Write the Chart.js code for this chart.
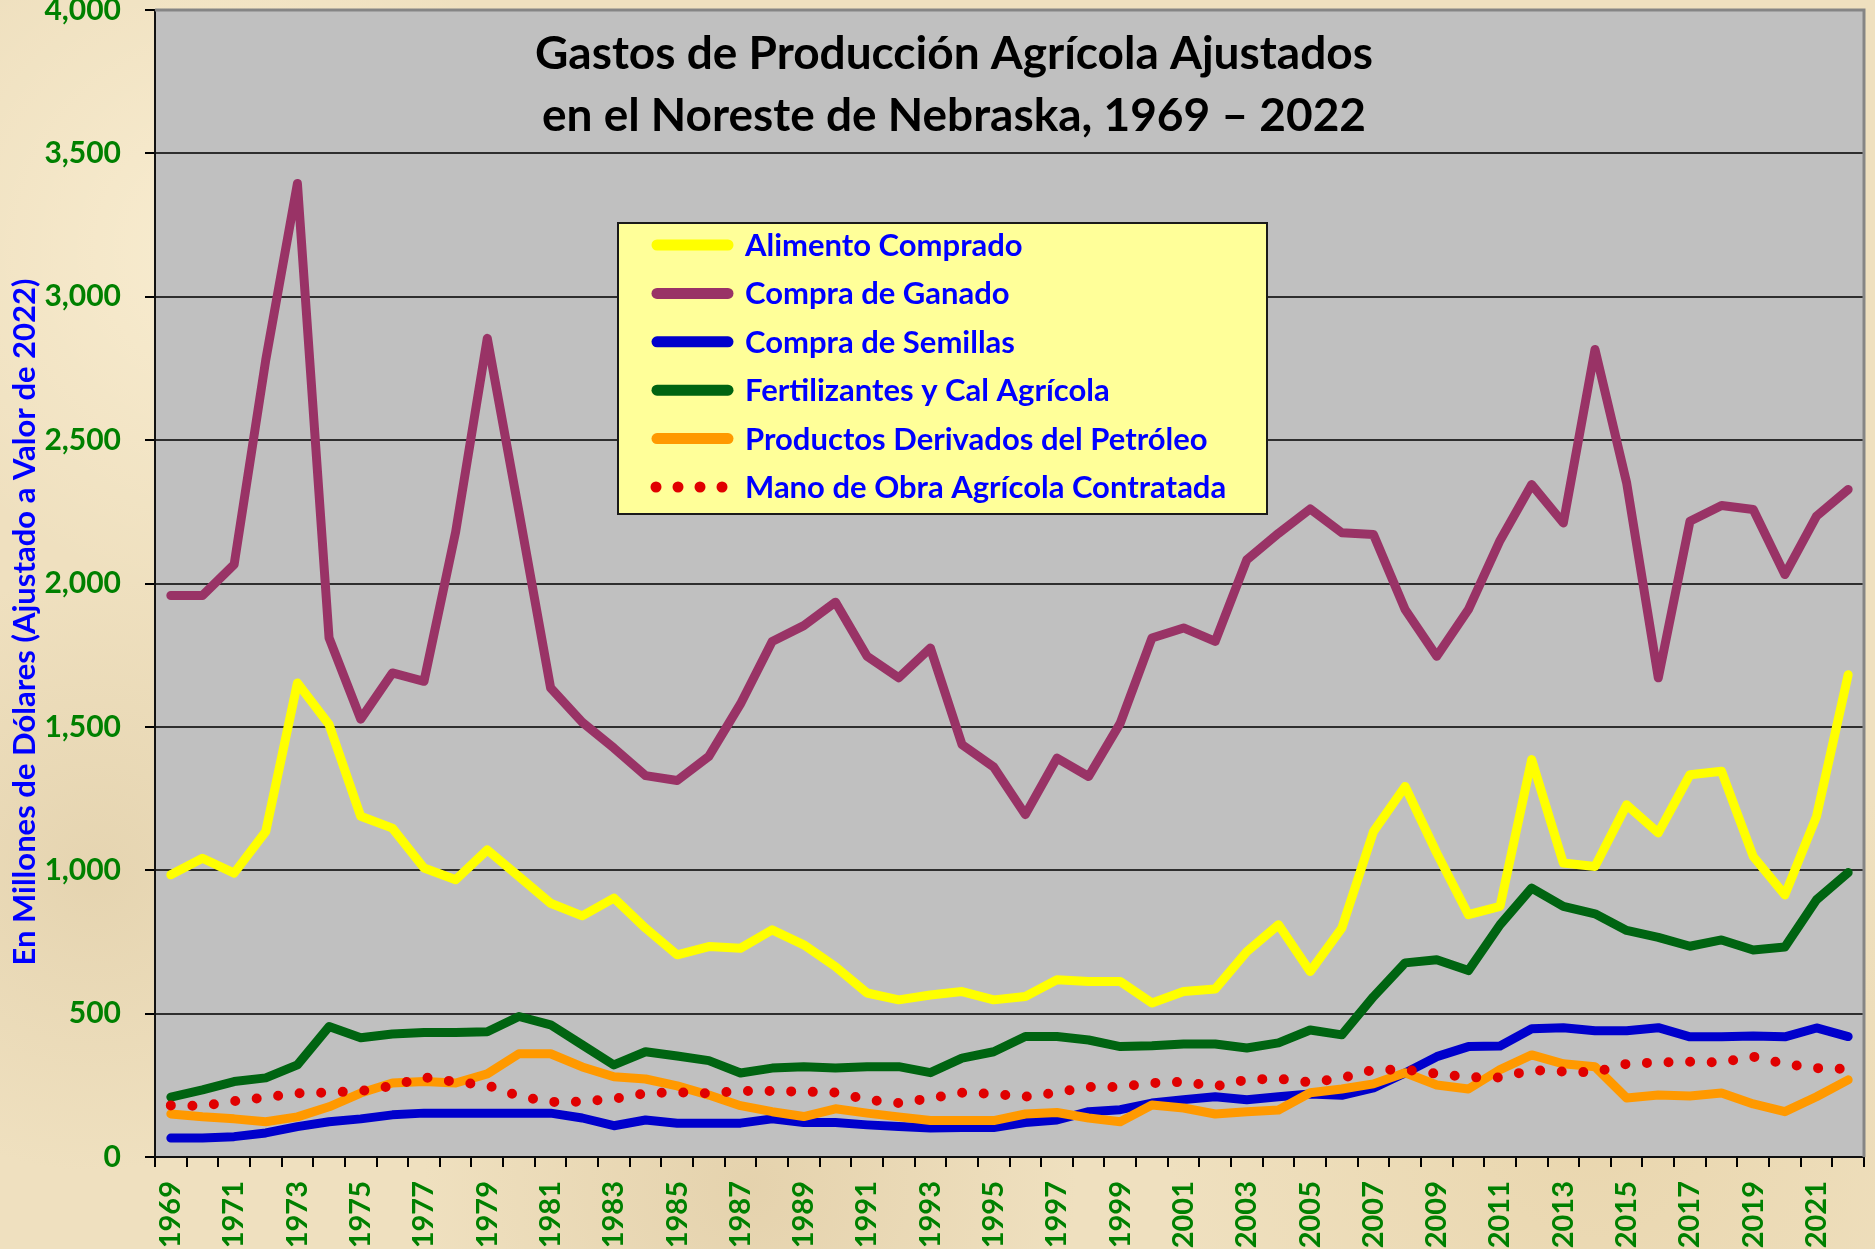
<!DOCTYPE html>
<html>
<head>
<meta charset="utf-8">
<title>Gastos de Producción Agrícola Ajustados en el Noreste de Nebraska</title>
<script src="https://cdn.jsdelivr.net/npm/chart.js@4.4.1/dist/chart.umd.min.js"></script>
<style>
  html, body { margin: 0; padding: 0; }
  body {
    width: 1875px; height: 1249px; overflow: hidden;
    background-color: #efe0bf;
    background-image:
      radial-gradient(circle at 12% 20%, rgba(255,245,220,0.6), rgba(255,245,220,0) 18%),
      radial-gradient(circle at 40% 95%, rgba(210,185,140,0.35), rgba(210,185,140,0) 20%),
      radial-gradient(circle at 85% 90%, rgba(225,200,150,0.4), rgba(225,200,150,0) 22%),
      radial-gradient(circle at 5% 70%, rgba(215,195,155,0.4), rgba(215,195,155,0) 15%);
  }
  canvas { display: block; }
</style>
</head>
<body>
<canvas id="gastosChart" width="1875" height="1249"></canvas>
<script>
// years on the x axis
var years = ['1969','1970','1971','1972','1973','1974','1975','1976','1977','1978',
             '1979','1980','1981','1982','1983','1984','1985','1986','1987','1988',
             '1989','1990','1991','1992','1993','1994','1995','1996','1997','1998',
             '1999','2000','2001','2002','2003','2004','2005','2006','2007','2008',
             '2009','2010','2011','2012','2013','2014','2015','2016','2017','2018',
             '2019','2020','2021','2022'];

// millones de dólares (ajustado a valor de 2022)
var alimentoComprado = [984, 1042, 990, 1135, 1653, 1508, 1188, 1147, 1008, 967,
                        1071, 978, 885, 841, 903, 798, 705, 734, 728, 792,
                        740, 664, 572, 548, 565, 577, 548, 560, 618, 612,
                        612, 537, 577, 586, 716, 810, 647, 798, 1135, 1292,
                        1060, 845, 874, 1386, 1025, 1013, 1228, 1130, 1333, 1345,
                        1048, 914, 1188, 1682];

var compraGanado = [1958, 1958, 2066, 2780, 3395, 1810, 1527, 1688, 1659, 2180,
                    2855, 2250, 1636, 1516, 1426, 1330, 1313, 1397, 1580, 1798,
                    1853, 1935, 1746, 1671, 1775, 1438, 1360, 1194, 1391, 1327,
                    1513, 1810, 1845, 1798, 2083, 2175, 2260, 2177, 2171, 1909,
                    1746, 1909, 2150, 2345, 2211, 2816, 2351, 1671, 2217, 2272,
                    2258, 2031, 2235, 2328];

var compraSemillas = [66, 66, 71, 84, 106, 123, 133, 147, 153, 153,
                      153, 153, 153, 136, 109, 129, 118, 118, 118, 133,
                      120, 120, 112, 106, 101, 103, 103, 120, 129, 158,
                      165, 188, 200, 210, 200, 210, 220, 215, 241, 293,
                      350, 385, 387, 447, 451, 440, 440, 451, 419, 419,
                      422, 419, 450, 420];

var fertilizantes = [209, 234, 263, 276, 321, 455, 416, 429, 434, 434,
                     437, 490, 461, 391, 321, 367, 352, 336, 293, 310,
                     315, 310, 315, 315, 294, 345, 367, 420, 420, 408,
                     385, 388, 394, 394, 380, 398, 443, 426, 559, 677,
                     688, 650, 810, 938, 874, 848, 790, 766, 735, 757,
                     722, 732, 897, 992];

var petroleo = [150, 140, 133, 123, 140, 175, 223, 258, 263, 258,
                290, 360, 360, 314, 280, 272, 248, 216, 179, 158,
                141, 168, 153, 140, 127, 127, 127, 150, 155, 136,
                123, 181, 171, 150, 158, 164, 224, 237, 255, 294,
                251, 237, 305, 356, 325, 315, 206, 216, 213, 223,
                185, 158, 210, 269];

var manoDeObra = [180, 178, 195, 208, 222, 225, 230, 248, 278, 262,
                  250, 212, 192, 193, 203, 222, 226, 222, 230, 230,
                  228, 225, 200, 188, 205, 224, 220, 210, 225, 244,
                  244, 258, 262, 246, 270, 273, 260, 275, 304, 305,
                  290, 278, 277, 303, 298, 295, 325, 330, 332, 330,
                  350, 325, 310, 307];

var titleLines = ['Gastos de Producción Agrícola Ajustados', 'en el Noreste de Nebraska, 1969 \u2013 2022'];
var yAxisTitle = 'En Millones de Dólares (Ajustado a Valor de 2022)';

var green = '#008000';
var blueText = '#0000ff';

function serie(label, data, color, order) {
    return {
        label: label,
        data: data,
        borderColor: color,
        backgroundColor: color,
        borderWidth: 9,
        borderCapStyle: 'round',
        borderJoinStyle: 'round',
        pointRadius: 0,
        tension: 0,
        fill: false,
        order: order
    };
}

var dotted = serie('Mano de Obra Agrícola Contratada', manoDeObra, '#e00000', 0);
dotted.borderWidth = 10;
dotted.borderDash = [0, 21.6];

// draws plot background, borders, title, legend box and the y axis title
var decor = {
    id: 'decor',
    beforeDraw: function (chart) {
        var ctx = chart.ctx, a = chart.chartArea;
        ctx.save();
        ctx.fillStyle = '#c0c0c0';
        ctx.fillRect(a.left, a.top, a.right - a.left, a.bottom - a.top);
        ctx.restore();
    },
    afterDatasetsDraw: function (chart) {
        var ctx = chart.ctx, a = chart.chartArea;
        ctx.save();

        // top and right border of the plot
        ctx.strokeStyle = '#858585';
        ctx.lineWidth = 3;
        ctx.beginPath();
        ctx.moveTo(a.left, a.top);
        ctx.lineTo(a.right, a.top);
        ctx.lineTo(a.right, a.bottom);
        ctx.stroke();

        // title
        ctx.fillStyle = '#000';
        ctx.font = 'bold 46px Lato';
        ctx.textAlign = 'center';
        ctx.textBaseline = 'middle';
        ctx.fillText(titleLines[0], 954, 54);
        ctx.fillText(titleLines[1], 954, 116);

        // legend
        var bx = 618, by = 223, bw = 649, bh = 291;
        ctx.fillStyle = '#ffff99';
        ctx.fillRect(bx, by, bw, bh);
        ctx.strokeStyle = '#1a1a1a';
        ctx.lineWidth = 2;
        ctx.strokeRect(bx, by, bw, bh);

        chart.data.datasets.forEach(function (ds, i) {
            var cy = 245 + i * 48.4;
            if (ds.borderDash) {
                ctx.fillStyle = ds.borderColor;
                for (var k = 0; k < 4; k++) {
                    ctx.beginPath();
                    ctx.arc(656 + k * 22, cy, 5.5, 0, Math.PI * 2);
                    ctx.fill();
                }
            } else {
                ctx.strokeStyle = ds.borderColor;
                ctx.lineWidth = 11;
                ctx.lineCap = 'round';
                ctx.beginPath();
                ctx.moveTo(657, cy);
                ctx.lineTo(728, cy);
                ctx.stroke();
            }
            ctx.fillStyle = blueText;
            ctx.font = 'bold 31px Lato';
            ctx.textAlign = 'left';
            ctx.textBaseline = 'middle';
            ctx.fillText(ds.label, 745, cy + 1);
        });

        // y axis title
        ctx.translate(25, 622);
        ctx.rotate(-Math.PI / 2);
        ctx.fillStyle = blueText;
        ctx.font = 'bold 31px Lato';
        ctx.textAlign = 'center';
        ctx.textBaseline = 'middle';
        ctx.fillText(yAxisTitle, 0, 0);
        ctx.restore();
    }
};

Chart.defaults.font.family = 'Lato';

var ctx = document.getElementById('gastosChart');
var gastosChart = new Chart(ctx, {
    type: 'line',
    data: {
        labels: years,
        datasets: [
            serie('Alimento Comprado', alimentoComprado, '#ffff00', 5),
            serie('Compra de Ganado', compraGanado, '#993366', 4),
            serie('Compra de Semillas', compraSemillas, '#0000cc', 3),
            serie('Fertilizantes y Cal Agrícola', fertilizantes, '#006411', 2),
            serie('Productos Derivados del Petróleo', petroleo, '#ff9900', 1),
            dotted
        ]
    },
    options: {
        responsive: false,
        animation: false,
        devicePixelRatio: 1,
        layout: { padding: { top: 10, right: 11, left: 0, bottom: 0 } },
        plugins: {
            legend: { display: false },
            title: { display: false },
            tooltip: { enabled: false }
        },
        scales: {
            x: {
                offset: true,
                grid: {
                    offset: true,
                    drawOnChartArea: false,
                    drawTicks: true,
                    tickLength: 10,
                    tickColor: '#000',
                    lineWidth: 2
                },
                border: { display: true, color: '#111', width: 2 },
                ticks: {
                    autoSkip: false,
                    minRotation: 90,
                    maxRotation: 90,
                    padding: 14,
                    color: green,
                    font: { size: 29, weight: 'bold' },
                    callback: function (value, index) {
                        return index % 2 === 0 ? years[index] : '';
                    }
                },
                afterFit: function (scale) {
                    scale.height = 92;
                    scale.paddingLeft = 0;
                    scale.paddingRight = 0;
                }
            },
            y: {
                min: 0,
                max: 4000,
                grid: {
                    color: function (c) {
                        return c.tick && c.tick.value === 4000 ? 'rgba(0,0,0,0)' : '#2e2e2e';
                    },
                    lineWidth: 2,
                    tickLength: 10,
                    tickColor: '#000'
                },
                border: { display: true, color: '#111', width: 2 },
                ticks: {
                    stepSize: 500,
                    padding: 24,
                    color: green,
                    font: { size: 30, weight: 'bold' },
                    callback: function (value) {
                        return value.toLocaleString('en-US');
                    }
                },
                afterFit: function (scale) {
                    scale.width = 155;
                    scale.paddingTop = 0;
                    scale.paddingBottom = 0;
                }
            }
        }
    },
    plugins: [decor]
});
</script>
</body>
</html>
